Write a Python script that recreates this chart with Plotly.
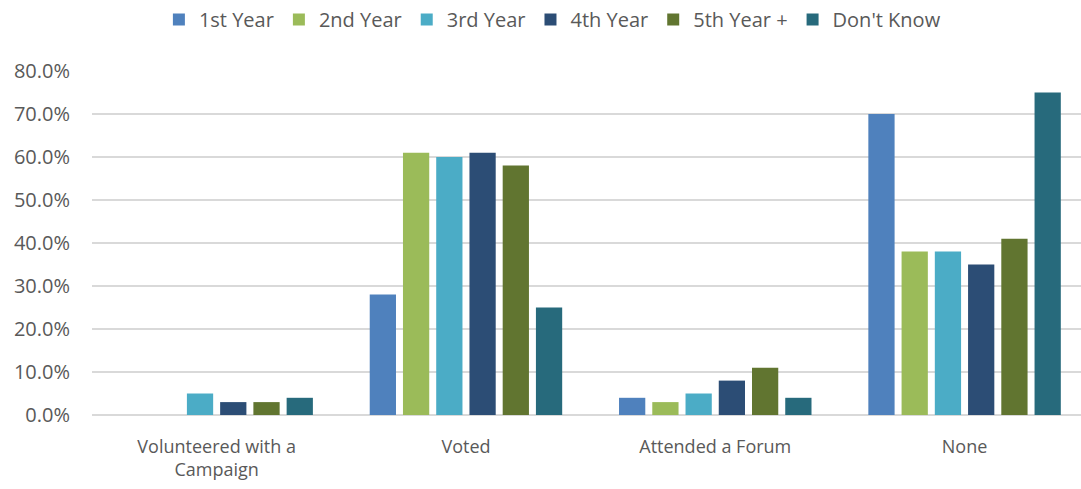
import plotly.graph_objects as go

categories = ["Volunteered with a<br>Campaign", "Voted", "Attended a Forum", "None"]
series_names = ["1st Year", "2nd Year", "3rd Year", "4th Year", "5th Year +", "Don't Know"]
first_year = [0.0, 0.28, 0.04, 0.70]
second_year = [0.0, 0.61, 0.03, 0.38]
third_year = [0.05, 0.60, 0.05, 0.38]
fourth_year = [0.03, 0.61, 0.08, 0.35]
fifth_year = [0.03, 0.58, 0.11, 0.41]
dont_know = [0.04, 0.25, 0.04, 0.75]
tick_vals = [0, 0.1, 0.2, 0.3, 0.4, 0.5, 0.6, 0.7, 0.8]

colors = ["#4F81BD", "#9BBB59", "#4BACC6", "#2C4D75", "#617530", "#276A7C"]
all_values = [first_year, second_year, third_year, fourth_year, fifth_year, dont_know]

fig = go.Figure()
for name, vals, col in zip(series_names, all_values, colors):
    fig.add_trace(go.Bar(
        x=categories, y=vals, name=name,
        marker=dict(color=col, line=dict(width=0)),
    ))

# the original chart is slightly cropped on the right, so the last category runs past the edge
fig.update_layout(
    width=1081, height=489,
    margin=dict(l=92, r=0, t=71, b=74),
    paper_bgcolor="white", plot_bgcolor="white",
    barmode="group", bargap=0.2, bargroupgap=0.21,
    font=dict(family="Open Sans, Liberation Sans, sans-serif", color="#595959", size=18),
    legend=dict(orientation="h", xref="container", x=0.511, xanchor="center",
                yref="container", y=1.0, yanchor="top",
                font=dict(size=20), itemwidth=30, traceorder="normal"),
    xaxis=dict(showgrid=False, ticks="", tickfont=dict(size=18), showline=False,
               ticklabelstandoff=19, range=[-0.5, 3.467]),
    yaxis=dict(range=[0, 0.8], tickvals=tick_vals, tickformat=".1%",
               gridcolor="#D9D9D9", gridwidth=1.5, zeroline=True,
               zerolinecolor="#D9D9D9", zerolinewidth=1.5,
               ticks="", tickfont=dict(size=20), ticklabelstandoff=21),
)

fig.write_html("out.html", config={"displayModeBar": False},
               post_script="document.body.style.margin='0';")
